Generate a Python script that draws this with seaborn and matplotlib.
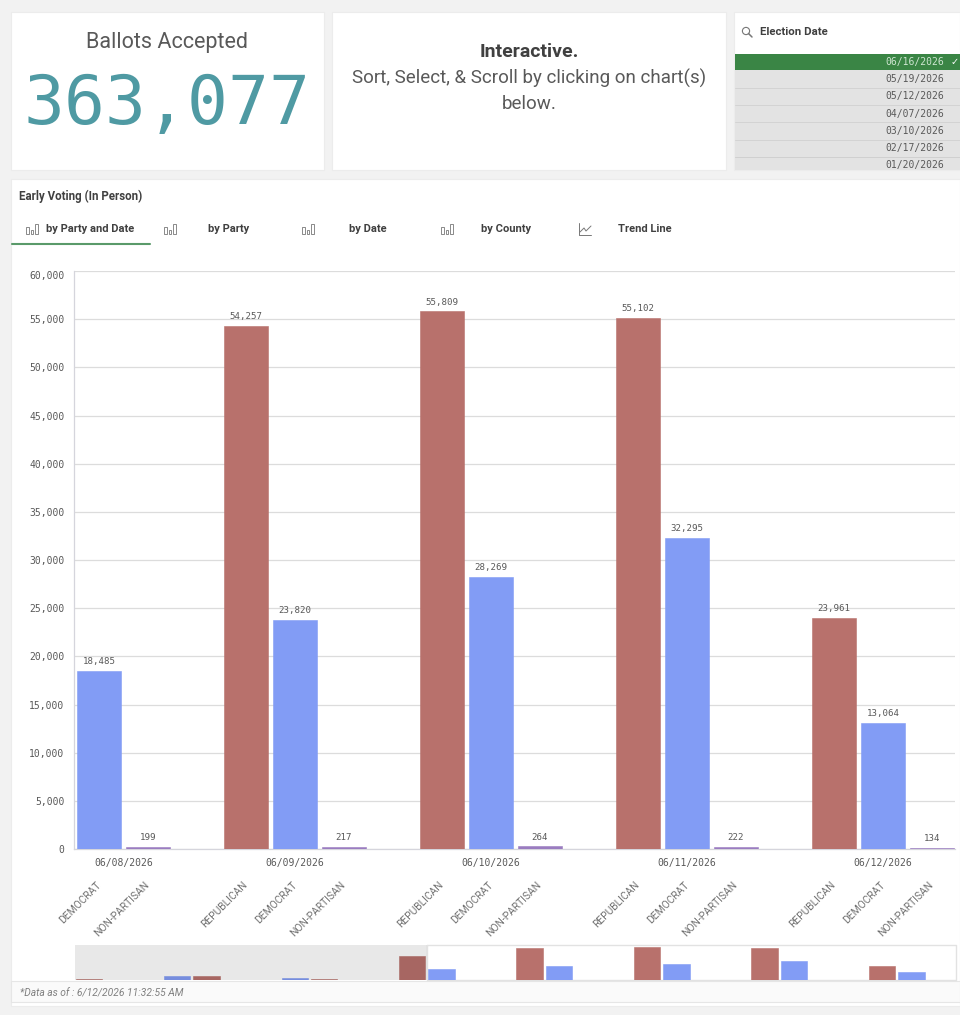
import matplotlib
matplotlib.use("Agg")
import matplotlib.pyplot as plt
from matplotlib.patches import Rectangle, Circle
from matplotlib.transforms import ScaledTranslation
import pandas as pd
import seaborn as sns

# ---------- data ----------
dates = ["06/05/2026", "06/06/2026", "06/07/2026", "06/08/2026", "06/09/2026", "06/10/2026", "06/11/2026", "06/12/2026"]
republican = [900, 6300, 2000, 40800, 54257, 55809, 55102, 23961]
democrat = [None, 6400, 2900, 18485, 23820, 28269, 32295, 13064]
non_partisan = [60, 40, 30, 199, 217, 264, 222, 134]
party_order = [
    [("REPUBLICAN", republican), ("NON-PARTISAN", non_partisan)],
    [("DEMOCRAT", democrat), ("REPUBLICAN", republican), ("NON-PARTISAN", non_partisan)],
    [("DEMOCRAT", democrat), ("REPUBLICAN", republican), ("NON-PARTISAN", non_partisan)],
    [("REPUBLICAN", republican), ("DEMOCRAT", democrat), ("NON-PARTISAN", non_partisan)],
    [("REPUBLICAN", republican), ("DEMOCRAT", democrat), ("NON-PARTISAN", non_partisan)],
    [("REPUBLICAN", republican), ("DEMOCRAT", democrat), ("NON-PARTISAN", non_partisan)],
    [("REPUBLICAN", republican), ("DEMOCRAT", democrat), ("NON-PARTISAN", non_partisan)],
    [("REPUBLICAN", republican), ("DEMOCRAT", democrat), ("NON-PARTISAN", non_partisan)],
]
election_dates = ["06/16/2026", "05/19/2026", "05/12/2026", "04/07/2026", "03/10/2026", "02/17/2026", "01/20/2026"]
y_ticks = list(range(0, 60001, 5000))
tabs = ["by Party and Date", "by Party", "by Date", "by County", "Trend Line"]
palette = {"REPUBLICAN": "#b8716c", "DEMOCRAT": "#829cf5", "NON-PARTISAN": "#9a7cc0"}

# ---------- table: one slot per bar, a blank slot between dates ----------
rows, slots = [], []
for i, (d, group) in enumerate(zip(dates, party_order)):
    for party, values in group:
        key = f"{d} {party}"
        slots.append(key)
        rows.append({"slot": key, "date": d, "party": party, "votes": values[i], "pos": len(slots) - 1})
    if i < len(dates) - 1:
        slots.append(f"gap{i}")
df = pd.DataFrame(rows)
first_visible = 12
vis = df[df.pos >= first_visible]

# ---------- figure ----------
sns.set_theme(style="white")
W, H = 960, 1015
fig = plt.figure(figsize=(W / 100, H / 100), dpi=100, facecolor="#f2f2f2")
SANS = ["Roboto", "DejaVu Sans"]
MONO = ["DejaVu Sans Mono"]
GREY = "#595959"


def axes_px(x0, y0, x1, y1, **kw):
    return fig.add_axes([x0 / W, 1 - y1 / H, (x1 - x0) / W, (y1 - y0) / H], **kw)


def solid_bars(a):
    for p in a.patches:
        p.set_edgecolor(p.get_facecolor())
        p.set_linewidth(0.4)
        p.set_zorder(3)


bg = axes_px(0, 0, W, H)
bg.set_xlim(0, W)
bg.set_ylim(H, 0)
bg.axis("off")
for x0, y0, x1, y1 in [(11, 12, 324, 170), (332, 12, 726, 170), (734, 12, 960, 170), (11, 179, 960, 1006)]:
    bg.add_patch(Rectangle((x0, y0), x1 - x0, y1 - y0, fc="white", ec="#ececec", lw=0.8))
bg.add_patch(Rectangle((11, 981), 949, 21, fc="#fafafa", ec="#e6e6e6", lw=0.8))

bg.text(167, 42, "Ballots Accepted", ha="center", va="center", fontsize=15.5, color=GREY, family=SANS)
bg.text(167, 105, "363,077", ha="center", va="center", fontsize=49, color="#4f9aa3", family=MONO)
bg.text(529, 52, "Interactive.", ha="center", va="center", fontsize=14, fontweight="bold", color="#404040", family=SANS)
bg.text(529, 78, "Sort, Select, & Scroll by clicking on chart(s)", ha="center", va="center", fontsize=13.5, color=GREY, family=SANS)
bg.text(529, 104, "below.", ha="center", va="center", fontsize=13.5, color=GREY, family=SANS)

# filter pane
bg.add_patch(Circle((746, 31), 3.6, fc="none", ec="#777777", lw=0.8))
bg.plot([748.5, 752], [33.5, 37], color="#777777", lw=1.1)
bg.text(760, 32, "Election Date", ha="left", va="center", fontsize=8.2, fontweight="bold", color="#404040", family=SANS)
bg.add_patch(Rectangle((735, 70), 225, 100, fc="#e3e3e3", ec="none"))
for i, d in enumerate(election_dates):
    top = 54 + i * 17.1
    if i == 0:
        bg.add_patch(Rectangle((735, top), 225, 16.4, fc="#3a8545", ec="none"))
    else:
        bg.plot([735, 960], [top + 17.1, top + 17.1] if i < 6 else [top, top], color="#d0d0d0", lw=0.6)
    bg.text(944, top + 8.2, d, ha="right", va="center", fontsize=7, color="#cfe6d2" if i == 0 else GREY, family=MONO)
bg.text(955, 62, "\u2713", ha="center", va="center", fontsize=7, fontweight="bold", color="white", family=["DejaVu Sans"])

# tabs
bg.text(19, 196, "Early Voting (In Person)", ha="left", va="center", fontsize=8.3, fontweight="bold", color="#404040", family=SANS)
tab_text_x = [46, 208, 349, 481, 618]
tab_icon_x = [32, 170, 308, 447, 585]
for name, tx, ix in zip(tabs, tab_text_x, tab_icon_x):
    bg.text(tx, 229, name, ha="left", va="center", fontsize=8, fontweight="bold", color="#404040", family=SANS)
    if name == "Trend Line":
        bg.plot([ix - 6, ix - 6, ix + 6], [223, 235, 235], color="#777777", lw=0.7)
        bg.plot([ix - 5, ix - 1, ix + 1, ix + 6], [232, 228, 231, 226], color="#777777", lw=0.7)
    else:
        for dx, top in [(-4.5, 227), (0, 230), (4.5, 224)]:
            bg.add_patch(Rectangle((ix + dx - 1.3, top), 2.6, 234 - top, fc="white", ec="#777777", lw=0.6))
bg.plot([12, 150], [243.5, 243.5], color="#5a9a6a", lw=1.5)
bg.text(20, 993.5, "*Data as of : 6/12/2026 11:32:55 AM", ha="left", va="center", fontsize=7.4, style="italic", color="#808080", family=SANS)

# ---------- main chart ----------
ax = axes_px(74, 271, 955, 849)
ax.patch.set_alpha(0)
sns.barplot(data=df, x="slot", y="votes", hue="party", order=slots, palette=palette,
            dodge=False, width=0.9, legend=False, ax=ax, saturation=1, errorbar=None)
solid_bars(ax)
ax.set_xlim(first_visible - 0.51, len(slots) - 1 + 0.47)
ax.set_ylim(0, 60000)
ax.set_yticks(y_ticks)
ax.set_yticklabels([f"{v:,}" for v in y_ticks], fontsize=7, color=GREY, family=MONO)
ax.get_yticklabels()[-1].set_verticalalignment("top")
ax.set_xticks(vis.pos.tolist())
ax.set_xticklabels(vis.party.tolist(), rotation=45, ha="right", rotation_mode="anchor", fontsize=7.4, color="#707070", family=SANS)
ax.tick_params(axis="x", length=0, pad=22)
shift = ScaledTranslation(-3.5 / 100, 0, fig.dpi_scale_trans)
for lab in ax.get_xticklabels():
    lab.set_transform(lab.get_transform() + shift)
ax.tick_params(axis="y", length=5, width=0.9, color="#dcdcdc", pad=2)
ax.set_xlabel("")
ax.set_ylabel("")
ax.yaxis.grid(True, color="#dcdcdc", lw=0.9)
ax.set_axisbelow(True)
for s in ["top", "right"]:
    ax.spines[s].set_visible(False)
for s in ["left", "bottom"]:
    ax.spines[s].set_color("#d5d5dc")
    ax.spines[s].set_linewidth(0.9)

for _, r in vis.iterrows():
    ax.annotate(f"{int(r.votes):,}", (r.pos, r.votes), xytext=(0, 3.5), textcoords="offset points",
                ha="center", va="bottom", fontsize=6.6, color=GREY, family=MONO)
for d, g in vis.groupby("date"):
    ax.annotate(d, (g.pos.mean(), 0), xytext=(0, -10), textcoords="offset points",
                ha="center", va="center", fontsize=7, color=GREY, family=MONO, annotation_clip=False)

# ---------- overview (mini) chart ----------
mini = axes_px(74.5, 945, 955.5, 980)
mini.patch.set_alpha(0)
sns.barplot(data=df, x="slot", y="votes", hue="party", order=slots, palette=palette,
            dodge=False, width=0.9, legend=False, ax=mini, saturation=1, errorbar=None)
solid_bars(mini)
mini.set_xlim(-0.5, len(slots) - 0.5)
mini.set_ylim(0, 60000)
mini.set_xticks([])
mini.set_yticks([])
mini.set_xlabel("")
mini.set_ylabel("")
mini.axvspan(-0.5, first_visible - 0.5, color="black", alpha=0.09, lw=0, zorder=5)
for s in mini.spines.values():
    s.set_visible(False)
mini.plot([first_visible - 0.5, len(slots) - 0.5, len(slots) - 0.5, first_visible - 0.5, first_visible - 0.5],
          [60000, 60000, 0, 0, 60000], color="#e2e2e2", lw=1, clip_on=False, zorder=2)

fig.savefig("out.png", dpi=100, facecolor=fig.get_facecolor())
